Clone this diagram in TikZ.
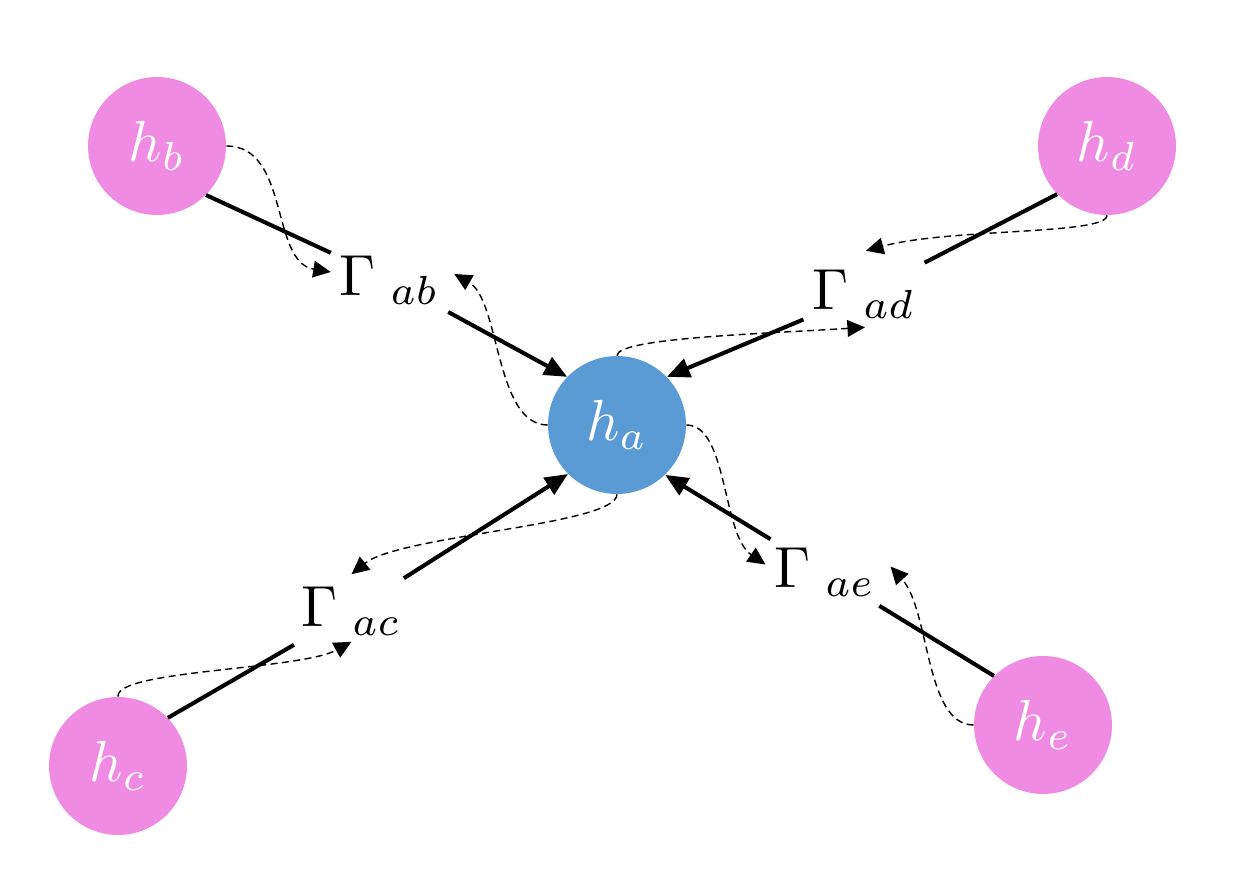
\RequirePackage{fix-cm}
\documentclass[tikz,border=0pt]{standalone}
\usetikzlibrary{arrows.meta}
\definecolor{pinkc}{RGB}{239,139,226}
\definecolor{bluec}{RGB}{91,155,213}
\newcommand{\mth}[1]{\scalebox{3.3}{$#1$}}
\begin{document}
\begin{tikzpicture}[x=0.02cm,y=-0.02cm,
  hnode/.style={circle,minimum size=2.76cm,inner sep=0pt,text=white,font=\fontsize{10}{12}\selectfont},
  gnode/.style={inner sep=5pt,font=\fontsize{10}{12}\selectfont},
  conn/.style={line width=2.3pt},
  arr/.style={conn,-{Triangle[length=13pt,width=11pt]}},
  flow/.style={line width=0.8pt,dash pattern=on 4pt off 2.5pt,-{Triangle[length=10pt,width=9.5pt]}}]
\useasboundingbox (0,0) rectangle (1238,875);
\node[hnode,fill=pinkc] (hb) at (157,146) {\mth{h_b}};
\node[hnode,fill=pinkc] (hd) at (1107,146) {\mth{h_d}};
\node[hnode,fill=bluec] (ha) at (617,425) {\mth{h_a}};
\node[hnode,fill=pinkc] (hc) at (118,766) {\mth{h_c}};
\node[hnode,fill=pinkc] (he) at (1043,725) {\mth{h_e}};
\node[gnode] (gab) at (389.5,280) {\mth{\Gamma_{\kern2.5pt ab}}};
\node[gnode] (gad) at (864,294) {\mth{\Gamma_{\kern2.5pt ad}}};
\node[gnode] (gac) at (351.5,611.5) {\mth{\Gamma_{\kern2.5pt ac}}};
\node[gnode] (gae) at (825,572.5) {\mth{\Gamma_{\kern2.5pt ae}}};
% solid connectors
\draw[conn] (hb.-45.5) -- (gab);
\draw[arr] (gab) -- (ha.136);
\draw[conn] (hd.224) -- (gad);
\draw[arr] (gad) -- (ha.44);
\draw[conn] (hc.44) -- (gac);
\draw[arr] (gac) -- (ha.225);
\draw[conn] (he.135) -- (gae);
\draw[arr] (gae) -- (ha.-46);
% dashed flows
\draw[flow] (hb.east) .. controls (290,146) and (270,262) .. ([shift={(0,-8)}]gab.west);
\draw[flow] (ha.west) .. controls (495,425) and (500,300) .. ([shift={(6,-6)}]gab.east);
\draw[flow] (ha.north) .. controls (617,338) and (760,334) .. ([shift={(1,0)}]gad.south);
\draw[flow] (hd.south) .. controls (1107,235) and (950,228) .. ([shift={(2,-10)}]gad.north);
\draw[flow] (ha.south) .. controls (617,525) and (400,535) .. ([shift={(0,-4)}]gac.north);
\draw[flow] (hc.north) .. controls (115,670) and (300,670) .. ([shift={(0,-3)}]gac.south);
\draw[flow] (ha.east) .. controls (728,425) and (722,535) .. ([shift={(0,-8)}]gae.west);
\draw[flow] (he.west) .. controls (925,725) and (930,610) .. ([shift={(6,-6)}]gae.east);
\end{tikzpicture}
\end{document}
